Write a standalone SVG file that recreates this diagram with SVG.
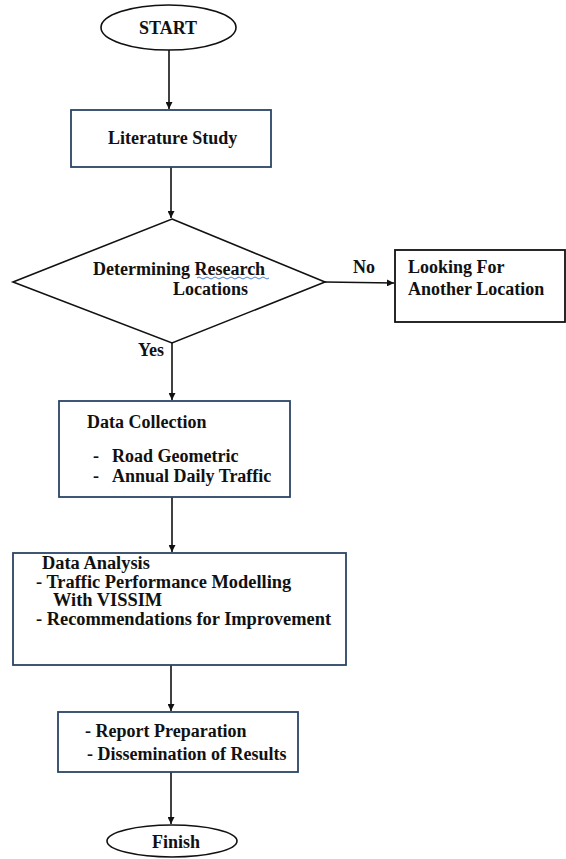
<svg xmlns="http://www.w3.org/2000/svg" width="566" height="859" viewBox="0 0 566 859">
<style>
  text { font-family: 'Liberation Serif', 'DejaVu Serif', serif; font-weight: bold; font-size: 18px; fill: #111; }
  .sm { font-size: 18.4px; }
  .box { fill: #fff; stroke: #2c4466; stroke-width: 1.8; }
  .term { fill: #fff; stroke: #111; stroke-width: 1.6; }
  .conn { stroke: #111; stroke-width: 1.6; fill: none; }
  .mid { text-anchor: middle; }
</style>
<defs>
  <marker id="arrow" viewBox="0 0 10 10" refX="10" refY="5" markerWidth="7" markerHeight="7" orient="auto" markerUnits="userSpaceOnUse">
    <path d="M0,0 L10,5 L0,10 z" fill="#111"/>
  </marker>
</defs>
<rect width="566" height="859" fill="#fff"/>

<g id="connectors">
  <line class="conn" x1="169" y1="50" x2="169" y2="109" marker-end="url(#arrow)"/>
  <line class="conn" x1="171" y1="167" x2="171" y2="218" marker-end="url(#arrow)"/>
  <line class="conn" x1="325" y1="282" x2="394" y2="283" marker-end="url(#arrow)"/>
  <line class="conn" x1="172" y1="343" x2="172" y2="400" marker-end="url(#arrow)"/>
  <line class="conn" x1="172" y1="497" x2="172" y2="552" marker-end="url(#arrow)"/>
  <line class="conn" x1="171" y1="665" x2="171" y2="711" marker-end="url(#arrow)"/>
  <line class="conn" x1="171" y1="772" x2="171" y2="824" marker-end="url(#arrow)"/>
  <text x="353" y="273">No</text>
  <text x="138" y="356">Yes</text>
</g>

<g id="start">
  <ellipse class="term" cx="168.5" cy="27.5" rx="67.5" ry="22.5"/>
  <text class="mid" x="168" y="34">START</text>
</g>

<g id="literature">
  <rect class="box" x="71" y="110" width="200" height="57"/>
  <text x="108" y="144">Literature Study</text>
</g>

<g id="decision">
  <polygon class="term" points="172,219 325,282 172,343 13,282"/>
  <text x="93" y="275">Determining Research</text>
  <text x="173" y="295">Locations</text>
  <path d="M197,278 q2,-2 4,0 t4,0 t4,0 t4,0 t4,0 t4,0 t4,0 t4,0 t4,0 t4,0 t4,0 t4,0 t4,0 t4,0 t4,0 t4,0 t4,0 t4,0" fill="none" stroke="#4a7fd6" stroke-width="1"/>
</g>

<g id="another">
  <rect class="box" x="395" y="250" width="170" height="72" style="stroke:#111"/>
  <text x="408" y="273">Looking For</text>
  <text x="408" y="295">Another Location</text>
</g>

<g id="collection">
  <rect class="box" x="59" y="401" width="231" height="96"/>
  <text x="87" y="428">Data Collection</text>
  <text x="93" y="462">-</text>
  <text x="112" y="462">Road Geometric</text>
  <text x="93" y="482">-</text>
  <text x="112" y="482">Annual Daily Traffic</text>
</g>

<g id="analysis">
  <rect class="box" x="13" y="553" width="333" height="112"/>
  <text class="sm" x="42" y="569">Data Analysis</text>
  <text class="sm" x="36" y="588">- Traffic Performance Modelling</text>
  <text class="sm" x="53" y="606">With VISSIM</text>
  <text class="sm" x="36" y="625">- Recommendations for Improvement</text>
</g>

<g id="report">
  <rect class="box" x="58" y="712" width="240" height="60"/>
  <text x="85" y="737">- Report Preparation</text>
  <text x="87" y="760">- Dissemination of Results</text>
</g>

<g id="finish">
  <ellipse class="term" cx="172" cy="841" rx="65" ry="16"/>
  <text class="mid" x="176" y="848">Finish</text>
</g>
</svg>
